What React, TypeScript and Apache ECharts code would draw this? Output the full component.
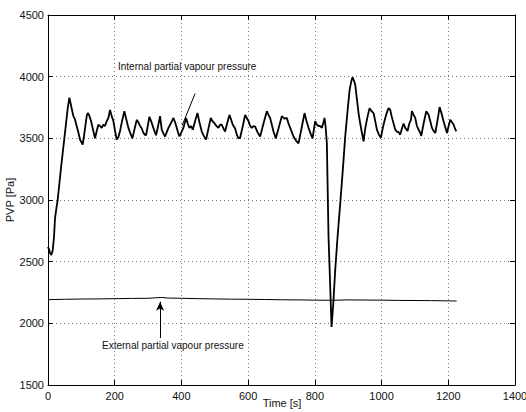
import React, { useEffect, useRef } from "react";
import * as echarts from "echarts";

const xTicks = [0, 200, 400, 600, 800, 1000, 1200, 1400];
const yTicks = [1500, 2000, 2500, 3000, 3500, 4000, 4500];

const internalTime = [
  0, 3, 6, 10, 14, 18, 21, 25, 29, 34, 39, 44, 49, 54, 59, 64, 68, 72, 76, 80, 85, 90, 96, 100, 104, 108, 112, 116, 119, 123,
  129, 135, 141, 146, 151, 156, 161, 166, 171, 176, 181, 186, 191, 196, 201, 206, 211, 216, 222, 229, 235, 241, 247, 253, 259,
  266, 271, 276, 281, 286, 290, 294, 299, 304, 309, 314, 319, 324, 330, 336, 341, 346, 351, 356, 361, 368, 376, 381, 386, 390,
  394, 400, 406, 414, 419, 424, 429, 434, 441, 448, 454, 461, 467, 474, 481, 488, 493, 498, 505, 511, 516, 521, 526, 531, 537,
  544, 549, 554, 561, 566, 571, 576, 584, 591, 596, 601, 606, 611, 616, 621, 628, 636, 646, 656, 661, 666, 671, 676, 683, 692,
  701, 709, 716, 721, 726, 731, 736, 744, 751, 760, 769, 775, 781, 787, 793, 797, 801, 806, 811, 816, 821, 826, 829, 832, 836,
  841, 846, 850, 855, 861, 868, 876, 884, 891, 898, 904, 909, 913, 917, 921, 926, 931, 936, 941, 946, 951, 956, 960, 964, 970,
  976, 981, 986, 992, 998, 1004, 1011, 1016, 1021, 1026, 1031, 1036, 1041, 1046, 1051, 1056, 1061, 1066, 1071, 1078, 1083,
  1088, 1091, 1096, 1101, 1106, 1111, 1116, 1119, 1126, 1134, 1141, 1146, 1151, 1156, 1161, 1168, 1174, 1180, 1186, 1191,
  1196, 1201, 1206, 1211, 1216, 1220, 1224,
];
const internalPvp = [
  2620, 2600, 2570, 2555, 2590, 2700, 2850, 2930, 3000, 3130, 3260, 3380, 3500, 3620, 3740, 3830, 3780, 3730, 3680, 3660, 3610,
  3560, 3490, 3470, 3450, 3520, 3600, 3680, 3705, 3690, 3640, 3570, 3500, 3560, 3610, 3600, 3585, 3610, 3600, 3640, 3665, 3730,
  3680, 3640, 3560, 3490, 3510, 3560, 3640, 3720, 3650, 3585, 3540, 3500, 3570, 3650, 3630, 3600, 3580, 3545, 3530, 3525, 3600,
  3675, 3640, 3600, 3560, 3525, 3600, 3680, 3570, 3540, 3515, 3550, 3585, 3620, 3665, 3630, 3585, 3545, 3515, 3550, 3585, 3665,
  3620, 3585, 3600, 3570, 3640, 3705, 3630, 3555, 3520, 3490, 3580, 3665, 3640, 3625, 3600, 3585, 3610, 3610, 3580, 3555, 3620,
  3690, 3650, 3610, 3580, 3530, 3500, 3505, 3600, 3690, 3665, 3640, 3600, 3585, 3600, 3595, 3550, 3515, 3620, 3720, 3690, 3665,
  3610, 3555, 3500, 3590, 3680, 3660, 3665, 3620, 3585, 3550, 3515, 3480, 3460, 3580, 3705, 3640, 3585, 3540, 3500, 3570, 3640,
  3610, 3600, 3600, 3585, 3630, 3665, 3600, 3460, 2700, 2300, 1970, 2150, 2430, 2700, 2970, 3250, 3515, 3720, 3890, 3960, 3995,
  3970, 3935, 3820, 3705, 3620, 3545, 3475, 3580, 3650, 3700, 3745, 3720, 3705, 3640, 3570, 3530, 3505, 3590, 3665, 3710, 3745,
  3730, 3670, 3620, 3570, 3555, 3550, 3530, 3580, 3620, 3585, 3560, 3620, 3650, 3720, 3690, 3665, 3600, 3570, 3545, 3520, 3620,
  3720, 3692, 3640, 3585, 3560, 3543, 3650, 3753, 3700, 3637, 3590, 3543, 3600, 3650, 3630, 3610, 3580, 3556,
];

const externalTime = [0, 50, 100, 150, 200, 250, 300, 340, 360, 400, 450, 500, 550, 600, 650, 700, 750, 800, 850, 900, 950, 1000, 1050, 1100, 1150, 1200, 1225];
const externalPvp = [2192, 2195, 2197, 2198, 2200, 2202, 2203, 2210, 2205, 2203, 2200, 2198, 2196, 2195, 2193, 2191, 2190, 2188, 2187, 2190, 2189, 2188, 2186, 2185, 2184, 2182, 2181];

const FONT = "'Liberation Sans', Arial, Helvetica, sans-serif";

export default function App() {
  const ref = useRef<HTMLDivElement>(null);
  useEffect(() => {
    if (!ref.current) return;
    const chart = echarts.init(ref.current, undefined, { renderer: "svg" });
    const internalData = internalTime.map((t, i) => [t, internalPvp[i]]);
    const externalData = externalTime.map((t, i) => [t, externalPvp[i]]);
    const grid = { left: 48, right: 11, top: 15, bottom: 27, containLabel: false, outerBoundsMode: "none" };
    const labelStyle = { color: "#111", fontSize: 11, fontFamily: FONT, formatter: (v: number) => String(v) };
    const splitLine = { show: true, lineStyle: { color: "#777", type: [1, 3] as any, width: 1 } };
    chart.setOption({
      animation: false,
      backgroundColor: "#fff",
      grid,
      xAxis: [
        {
          type: "value",
          min: xTicks[0],
          max: xTicks[xTicks.length - 1],
          interval: 200,
          axisLine: { show: true, onZero: false, lineStyle: { color: "#000", width: 1 } },
          axisTick: { show: true, inside: true, length: 5, lineStyle: { color: "#000" } },
          axisLabel: { ...labelStyle, margin: 5 },
          splitLine,
        },
        {
          type: "value",
          position: "top",
          min: xTicks[0],
          max: xTicks[xTicks.length - 1],
          interval: 200,
          axisLine: { show: true, onZero: false, lineStyle: { color: "#000", width: 1 } },
          axisTick: { show: true, inside: true, length: 5, lineStyle: { color: "#000" } },
          axisLabel: { show: false },
          splitLine: { show: false },
        },
      ],
      yAxis: [
        {
          type: "value",
          min: yTicks[0],
          max: yTicks[yTicks.length - 1],
          interval: 500,
          axisLine: { show: true, onZero: false, lineStyle: { color: "#000", width: 1 } },
          axisTick: { show: true, inside: true, length: 5, lineStyle: { color: "#000" } },
          axisLabel: { ...labelStyle, margin: 4 },
          splitLine,
        },
        {
          type: "value",
          position: "right",
          min: yTicks[0],
          max: yTicks[yTicks.length - 1],
          interval: 500,
          axisLine: { show: true, onZero: false, lineStyle: { color: "#000", width: 1 } },
          axisTick: { show: true, inside: true, length: 5, lineStyle: { color: "#000" } },
          axisLabel: { show: false },
          splitLine: { show: false },
        },
      ],
      series: [
        {
          name: "Internal partial vapour pressure",
          type: "line",
          data: internalData,
          showSymbol: false,
          symbol: "none",
          lineStyle: { color: "#000", width: 1.8 },
          markLine: {
            silent: true,
            symbol: ["none", "none"],
            label: { show: false },
            lineStyle: { color: "#000", width: 1, type: "solid" },
            data: [[{ coord: [441, 3863] }, { coord: [402, 3604] }]],
          },
        },
        {
          name: "External partial vapour pressure",
          type: "line",
          data: externalData,
          showSymbol: false,
          symbol: "none",
          lineStyle: { color: "#000", width: 1 },
          markLine: {
            silent: true,
            symbol: ["none", "arrow"],
            symbolSize: [6, 9],
            label: { show: false },
            lineStyle: { color: "#000", width: 1, type: "solid" },
            data: [[{ coord: [336, 1881] }, { coord: [336, 2175] }]],
          },
        },
      ],
      graphic: [
        {
          type: "text",
          x: 282,
          y: 403,
          style: { text: "Time [s]", fill: "#111", fontSize: 11, fontFamily: FONT, align: "center", verticalAlign: "middle" },
        },
        {
          type: "text",
          x: 10,
          y: 200,
          rotation: Math.PI / 2,
          style: { text: "PVP [Pa]", fill: "#111", fontSize: 11, fontFamily: FONT, align: "center", verticalAlign: "middle" },
        },
        {
          type: "text",
          left: 118,
          top: 61,
          style: { text: "Internal partial vapour pressure", fill: "#111", fontSize: 10, fontFamily: FONT },
        },
        {
          type: "text",
          left: 102,
          top: 340,
          style: { text: "External partial vapour pressure", fill: "#111", fontSize: 10, fontFamily: FONT },
        },
      ],
    });
    return () => chart.dispose();
  }, []);
  return <div ref={ref} style={{ width: 526, height: 412, position: "absolute", left: 0, top: 0 }} />;
}
